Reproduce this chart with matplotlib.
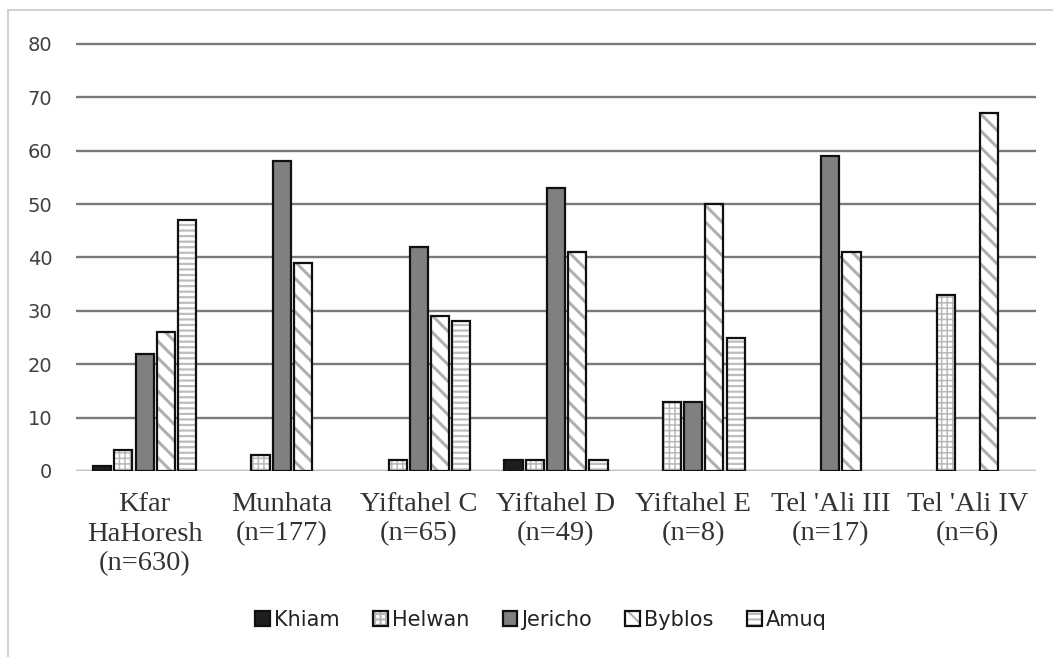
import matplotlib.pyplot as plt
import numpy as np
from matplotlib.lines import Line2D

sites = ["Kfar\nHaHoresh\n(n=630)", "Munhata\n(n=177)", "Yiftahel C\n(n=65)",
         "Yiftahel D\n(n=49)", "Yiftahel E\n(n=8)", "Tel 'Ali III\n(n=17)",
         "Tel 'Ali IV\n(n=6)"]
types = ["Khiam", "Helwan", "Jericho", "Byblos", "Amuq"]

khiam = [1, 0, 0, 2, 0, 0, 0]
helwan = [4, 3, 2, 2, 13, 0, 33]
jericho = [22, 58, 42, 53, 13, 59, 0]
byblos = [26, 39, 29, 41, 50, 41, 67]
amuq = [47, 0, 28, 2, 25, 0, 0]
values = [khiam, helwan, jericho, byblos, amuq]

# fill colour, hatch, hatch colour, hatch width
styles = [("#1e1e1e", "", "#1e1e1e", 1.0),
          ("white", "+++", "#b8b8b8", 1.1),
          ("#808080", "", "#808080", 1.0),
          ("white", "\\\\", "#b0b0b0", 2.2),
          ("white", "---", "#bdbdbd", 1.6)]

fig = plt.figure(figsize=(10.53, 6.57), dpi=100)
ax = fig.add_axes([76 / 1053, 1 - 471 / 657, 960 / 1053, (471 - 38.5) / 657])

x = np.arange(len(sites))
pitch = 0.155
width = 0.132

handles = []
for i, (vals, (fc, hatch, hc, hw)) in enumerate(zip(values, styles)):
    plt.rcParams['hatch.linewidth'] = hw
    pos = x + (i - 2) * pitch
    keep = [j for j, v in enumerate(vals) if v > 0]
    px = pos[keep]
    pv = [vals[j] for j in keep]
    inner = ax.bar(px, pv, width, color=fc, hatch=hatch, edgecolor=hc,
                   linewidth=0.01, zorder=3)
    outer = ax.bar(px, pv, width, fill=False, edgecolor="#111111",
                   linewidth=1.6, zorder=4)
    handles.append((inner[0], outer[0]))

ax.set_ylim(0, 81)
ax.set_xlim(-0.5, len(sites) - 0.5)
ax.set_yticks(range(0, 81, 10))
ax.yaxis.grid(True, color="#7a7a7a", linewidth=1.7, zorder=0)
ax.axhline(0, color="#c4c4c4", linewidth=2.2, zorder=2)
for s in ax.spines.values():
    s.set_visible(False)

ax.set_xticks(x)
ax.set_xticklabels(sites, fontfamily="Liberation Serif", fontsize=20.5,
                   color="#333333", linespacing=1.25)
ax.tick_params(axis="x", length=0, pad=15)
ax.tick_params(axis="y", length=0, pad=17, labelsize=14, labelcolor="#404040")

fig.legend(handles, types, loc="center", bbox_to_anchor=(541 / 1053, 1 - 620 / 657),
           ncol=5, frameon=False, fontsize=15, handlelength=0.7, handleheight=0.7,
           handletextpad=0.2, columnspacing=1.6, labelcolor="#222222")

fig.add_artist(Line2D([8 / 1053, 8 / 1053], [0, 1 - 10 / 657], transform=fig.transFigure,
                      color="#c8c8c8", linewidth=1.2))
fig.add_artist(Line2D([8 / 1053, 1], [1 - 10 / 657, 1 - 10 / 657], transform=fig.transFigure,
                      color="#c8c8c8", linewidth=1.2))

fig.savefig("out.png", dpi=100)
